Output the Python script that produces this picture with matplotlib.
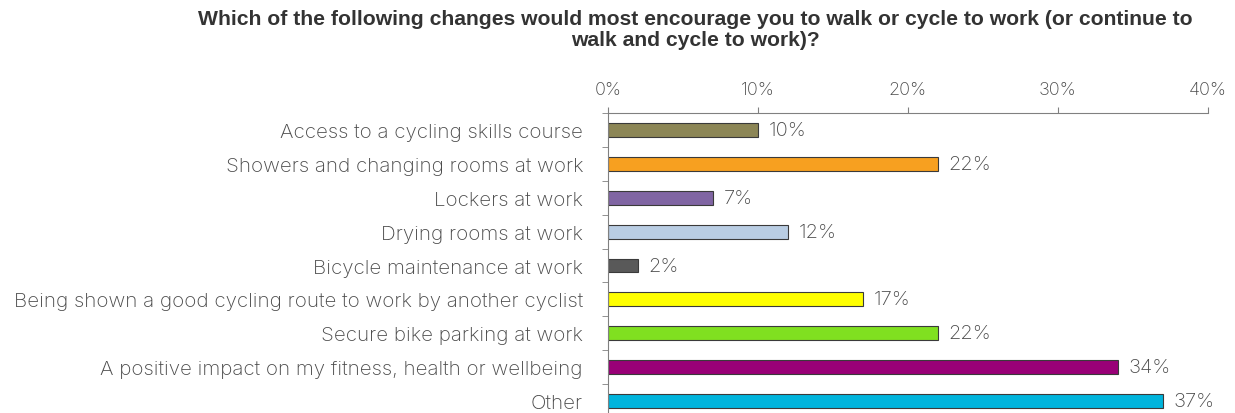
import numpy as np
import matplotlib.pyplot as plt
from matplotlib.ticker import FuncFormatter, FixedLocator

# survey answers, top to bottom
categories = [
    "Access to a cycling skills course",
    "Showers and changing rooms at work",
    "Lockers at work",
    "Drying rooms at work",
    "Bicycle maintenance at work",
    "Being shown a good cycling route to work by another cyclist",
    "Secure bike parking at work",
    "A positive impact on my fitness, health or wellbeing",
    "Other",
]
percent = [10, 22, 7, 12, 2, 17, 22, 34, 37]
bar_colors = ["#8c8656", "#f7a020", "#8065a3", "#b9cde3", "#595959",
              "#ffff00", "#80e020", "#990077", "#00b4dc"]

text_col = "#4a4a4a"
plt.rcParams['font.family'] = ['Inter', 'DejaVu Sans']
plt.rcParams['font.weight'] = 'light'

fig = plt.figure(figsize=(12.35, 4.14), dpi=100)
ax = fig.add_axes([608 / 1235, 0, 600 / 1235, 300 / 414])

y = np.arange(len(categories))
ax.barh(y, percent, height=0.41, color=bar_colors, edgecolor="#3a3a3a", linewidth=0.8)

for yi, v in zip(y, percent):
    ax.annotate(f"{v}%", (v, yi), xytext=(7.5, 0), textcoords="offset points",
                va="center", ha="left", fontsize=14.5, color=text_col)

ax.set_xlim(0, 40)
ax.set_ylim(8.35, -0.5)

ax.xaxis.tick_top()
ax.set_xticks([0, 10, 20, 30, 40])
ax.xaxis.set_major_formatter(FuncFormatter(lambda v, p: f"{v:.0f}%"))
ax.tick_params(axis="x", length=4.5, color="#808080", labelsize=13,
               labelcolor=text_col, pad=6)

ax.set_yticks(y)
ax.set_yticklabels(categories)
ax.yaxis.set_minor_locator(FixedLocator(np.arange(-0.5, 8.6, 1)))
ax.tick_params(axis="y", which="major", length=0, pad=18, labelsize=14.8,
               labelcolor=text_col)
ax.tick_params(axis="y", which="minor", length=4.5, color="#808080")

for s in ["right", "bottom"]:
    ax.spines[s].set_visible(False)
for s in ["left", "top"]:
    ax.spines[s].set_color("#808080")
    ax.spines[s].set_linewidth(0.8)

fig.text(0.563, 0.977,
         "Which of the following changes would most encourage you to walk or cycle to work (or continue to\nwalk and cycle to work)?",
         ha="center", va="top", fontsize=15.2, fontweight="bold", color="#333333",
         family=['Liberation Sans', 'DejaVu Sans'], linespacing=1.15)

fig.savefig("out.png", dpi=100)
